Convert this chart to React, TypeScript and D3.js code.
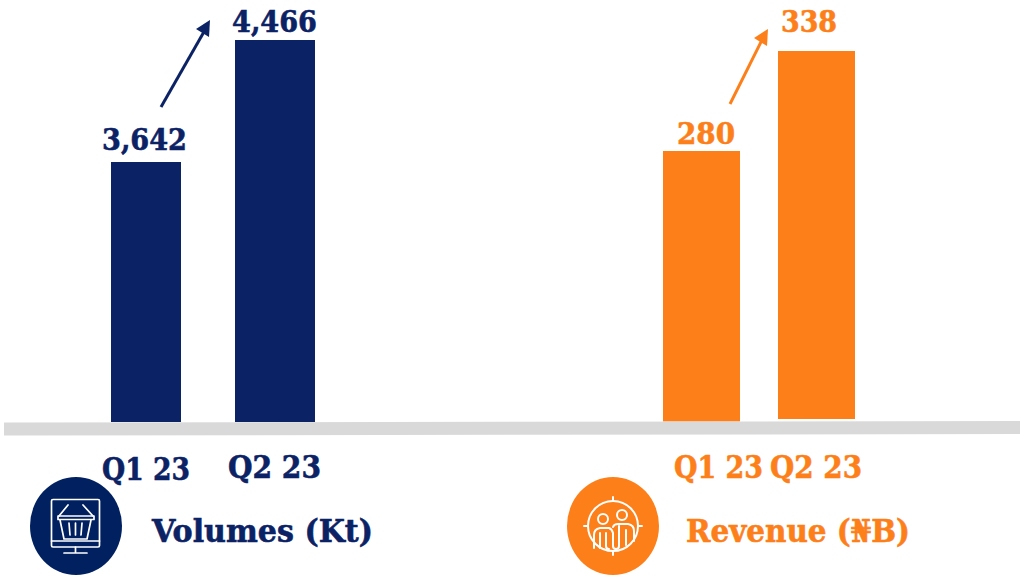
// App.tsx
import React from 'react';
import * as d3 from 'd3';

// DATA
const quarters = ['Q1 23', 'Q2 23'];
const volumes = [3642, 4466];
const revenue = [280, 338];
const volumeTitle = 'Volumes (Kt)';
const revenueTitle = 'Revenue (₦B)';

const NAVY = '#0b2265';
const NAVY_ICON = '#002060';
const ORANGE = '#fd7f1a';
const FONT = '"DejaVu Serif", serif';

// both bar groups sit on a cut-off axis, so the scales are pinned on the two bar tops
const yVolumes = d3.scaleLinear().domain(volumes).range([162, 40]);
const yRevenue = d3.scaleLinear().domain(revenue).range([151, 51]);
const fmt = d3.format(',');

const panels = [
  {
    values: volumes, y: yVolumes, color: NAVY,
    barX: [111, 235], barW: [70, 80], bottom: [422, 422],
    labelX: [102, 232], labelW: [85, 85], labelY: [150, 32],
    qX: [102, 228], qW: [88, 93], qY: [480, 478],
    arrow: [[161, 107], [205, 30]] as [number, number][],
    head: '210,20 196,29 209,37',
    title: volumeTitle, titleX: 152, titleW: 221,
  },
  {
    values: revenue, y: yRevenue, color: ORANGE,
    barX: [663, 778], barW: [77, 77], bottom: [421.5, 419],
    labelX: [677, 781], labelW: [58, 56], labelY: [144, 32],
    qX: [674, 770], qW: [89, 92], qY: [478, 478],
    arrow: [[730, 104], [763, 38]] as [number, number][],
    head: '768,29 754,38 767,46',
    title: revenueTitle, titleX: 686, titleW: 224,
  },
];

const line = d3.line();

const BasketIcon = () => (
  <g fill="none" stroke="#fff" strokeWidth={1.7} strokeLinecap="round" strokeLinejoin="round">
    <rect x={51.5} y={499.5} width={48} height={47.5} rx={1.5} />
    <path d="M51.5 541H99.5M75.5 547V552M64 553H87" />
    <path d="M58 516H94V519.5H58ZM60 520L64 539H87L91 520" />
    <path d="M59 516L68 505M93 516L83 505" />
    <path d="M69 523L70 535M75.5 523V535M82 523L81 535" />
  </g>
);

const PeopleIcon = () => (
  <g fill="none" stroke="#fff" strokeWidth={2} strokeLinecap="round" strokeLinejoin="round">
    <circle cx={613} cy={526} r={25} />
    <path d="M613 497V501M613 551V555M584 526H588M638 526H642" />
    <circle cx={603} cy={519} r={5} />
    <circle cx={622} cy={515} r={5} />
    <path d="M594 548V535Q594 529 600 528H609Q612 529 613 533V546Q613 549 616 549Q619 549 619 546V526" />
    <path d="M613 527Q614 524 618 524H628Q634 525 634 531V541" />
    <path d="M600 533V548M606 533V546Q606 549 609 549M626 530V545" />
  </g>
);

const App = () => (
  <svg
    width={1020}
    height={577}
    viewBox="0 0 1020 577"
    style={{ position: 'absolute', left: 0, top: 0, background: '#fff' }}
    fontFamily={FONT}
    fontWeight={700}
  >
    {panels.map((p, pi) => (
      <g key={pi}>
        {p.values.map((v, i) => (
          <rect
            key={i}
            x={p.barX[i]}
            y={p.y(v)}
            width={p.barW[i]}
            height={p.bottom[i] - p.y(v)}
            fill={p.color}
          />
        ))}
      </g>
    ))}

    {/* ground strip, very slightly tilted */}
    <polygon points="4,422.5 1020,421 1020,434 4,435.5" fill="#d9d9d9" />

    {panels.map((p, pi) => (
      <g key={pi} fill={p.color}>
        <g stroke={p.color} strokeWidth={0.6}>
          {p.values.map((v, i) => (
            <text
              key={i}
              x={p.labelX[i]}
              y={p.labelY[i]}
              fontSize={30}
              textLength={p.labelW[i]}
              lengthAdjust="spacingAndGlyphs"
            >
              {fmt(v)}
            </text>
          ))}
          {quarters.map((q, i) => (
            <text
              key={q}
              x={p.qX[i]}
              y={p.qY[i]}
              fontSize={31}
              textLength={p.qW[i]}
              lengthAdjust="spacingAndGlyphs"
            >
              {q}
            </text>
          ))}
          <text
            x={p.titleX}
            y={542}
            fontSize={31}
            textLength={p.titleW}
            lengthAdjust="spacingAndGlyphs"
          >
            {p.title}
          </text>
        </g>
        <path d={line(p.arrow) as string} stroke={p.color} strokeWidth={3} fill="none" />
        <polygon points={p.head} />
      </g>
    ))}

    <ellipse cx={76} cy={526} rx={46} ry={49} fill={NAVY_ICON} />
    <BasketIcon />
    <ellipse cx={613} cy={526} rx={46} ry={49} fill={ORANGE} />
    <PeopleIcon />
  </svg>
);

export default App;
